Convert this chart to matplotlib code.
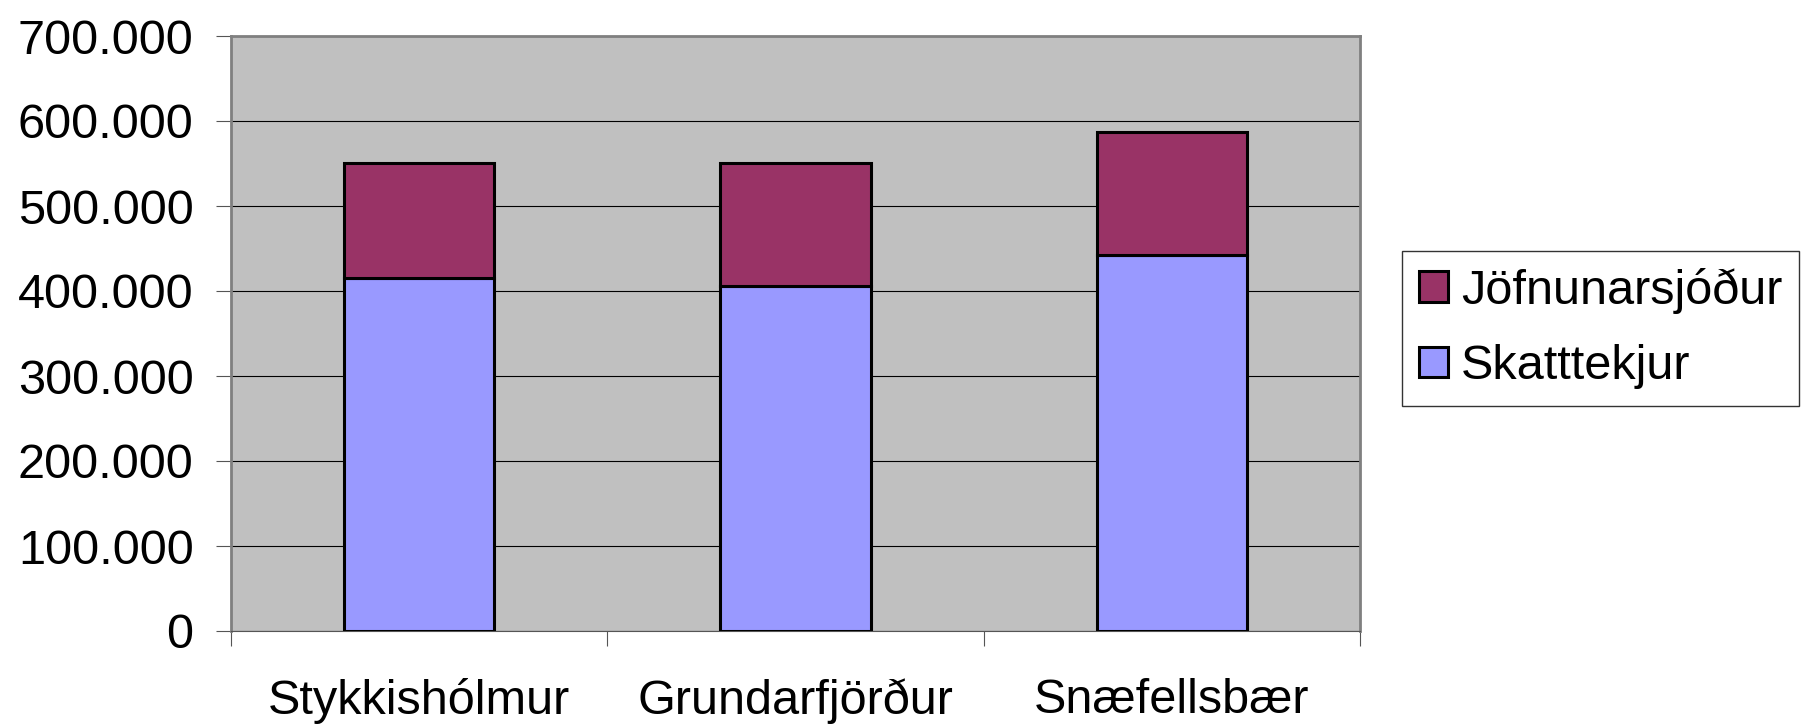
import matplotlib
matplotlib.use("Agg")
import matplotlib.pyplot as plt
from matplotlib.ticker import FuncFormatter, FixedLocator

# gögn lesin af myndinni
sveitarfelog = ["Stykkishólmur", "Grundarfjörður", "Snæfellsbær"]
skatttekjur = [415700, 406000, 442000]
jofnunarsjodur = [135300, 144000, 145000]

plt.rcParams['font.family'] = ['Liberation Sans', 'DejaVu Sans']

fig = plt.figure(figsize=(18.03, 7.28), dpi=100)
ax = fig.add_axes([231/1803, 1 - 631/728, (1360-231)/1803, (631-36)/728])
ax.set_facecolor("#C0C0C0")

x = list(range(len(sveitarfelog)))
b1 = ax.bar(x, skatttekjur, width=0.4, color="#9999FF", edgecolor="black",
            linewidth=2.2, label="Skatttekjur", zorder=3)
b2 = ax.bar(x, jofnunarsjodur, width=0.4, bottom=skatttekjur, color="#993366",
            edgecolor="black", linewidth=2.2, label="Jöfnunarsjóður", zorder=3)

ax.set_xlim(-0.5, 2.5)
ax.set_ylim(0, 700000)
ax.set_yticks(range(0, 700001, 100000))
ax.yaxis.set_major_formatter(FuncFormatter(lambda v, p: f"{int(v):,}".replace(",", ".")))
ax.grid(axis="y", color="black", linewidth=0.8, zorder=1)

ax.set_xticks(x)
ax.set_xticklabels(sveitarfelog)
ax.xaxis.set_minor_locator(FixedLocator([-0.5, 0.5, 1.5, 2.5]))
ax.tick_params(axis="x", which="major", length=0, pad=34, labelsize=35)
ax.tick_params(axis="x", which="minor", length=11, width=0.8, color="#555555")
ax.tick_params(axis="y", length=11, width=0.8, pad=16, labelsize=35, color="#555555")

for s in ["left", "top", "right"]:
    ax.spines[s].set_color("#808080")
    ax.spines[s].set_linewidth(2)
ax.spines["bottom"].set_color("#555555")
ax.spines["bottom"].set_linewidth(0.8)

leg = fig.legend([b2, b1], ["Jöfnunarsjóður", "Skatttekjur"],
                 loc="upper left", bbox_to_anchor=(1402/1803, 1 - 251/728),
                 fontsize=35, frameon=True, fancybox=False, edgecolor="black",
                 handlelength=0.6, handleheight=0.6, handletextpad=0.26,
                 labelspacing=0.62, borderpad=0.35, borderaxespad=0)
leg.get_frame().set_linewidth(1)
for h in leg.legend_handles:
    h.set_linewidth(2.2)

fig.savefig("out.png", dpi=100)
